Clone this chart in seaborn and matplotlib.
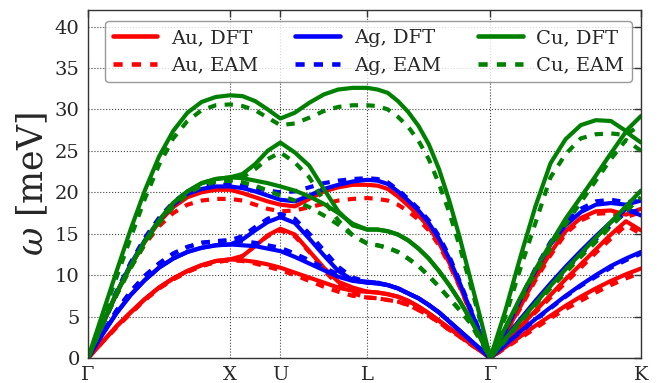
import numpy as np
import pandas as pd
import matplotlib
matplotlib.use("Agg")
import matplotlib.pyplot as plt
import seaborn as sns
from matplotlib.lines import Line2D

# ---- data -------------------------------------------------------------
sym_k = [0.0, 1.0, 1.354, 1.966, 2.832, 3.893]
sym_labels = ["Γ", "X", "U", "L", "Γ", "K"]

kpath = [0.0, 0.1, 0.2, 0.3, 0.4, 0.5, 0.6, 0.7, 0.8, 0.9, 1.0,
         1.088, 1.177, 1.265, 1.354,
         1.456, 1.558, 1.660, 1.762, 1.864, 1.966,
         2.038, 2.110, 2.182, 2.254, 2.327, 2.399, 2.471, 2.543, 2.616, 2.688, 2.760, 2.832,
         2.938, 3.044, 3.150, 3.256, 3.362, 3.469, 3.575, 3.681, 3.787, 3.893]

au_dft_1 = [0, 1.9, 3.8, 5.5, 7.1, 8.5, 9.6, 10.5, 11.2, 11.7, 11.9, 11.8, 11.6, 11.3, 10.9, 10.3, 9.7, 9.1, 8.5, 8.1, 8.0, 7.9, 7.7, 7.4, 6.9, 6.2, 5.4, 4.5, 3.6, 2.7, 1.8, 0.9, 0, 1.3, 2.6, 3.9, 5.1, 6.3, 7.4, 8.4, 9.3, 10.1, 10.8]
au_dft_2 = [0, 1.9, 3.8, 5.5, 7.1, 8.5, 9.6, 10.5, 11.2, 11.7, 11.9, 12.3, 13.5, 14.8, 15.6, 14.9, 12.9, 10.9, 9.2, 8.5, 8.0, 7.9, 7.7, 7.4, 6.9, 6.2, 5.4, 4.5, 3.6, 2.7, 1.8, 0.9, 0, 1.9, 3.8, 5.7, 7.6, 9.5, 11.3, 13.1, 14.9, 16.5, 15.4]
au_dft_3 = [0, 3.9, 7.7, 11.1, 14.0, 16.4, 18.2, 19.4, 20.0, 20.3, 20.3, 19.9, 19.4, 18.9, 18.5, 18.3, 19.2, 20.1, 20.6, 20.9, 20.9, 20.8, 20.4, 19.5, 18.4, 17.2, 15.8, 13.9, 11.5, 8.7, 5.8, 2.9, 0, 3.0, 6.2, 9.7, 12.7, 15.3, 16.9, 17.7, 17.8, 17.3, 18.0]
au_eam_1 = [0, 1.9, 3.7, 5.4, 7.0, 8.4, 9.5, 10.4, 11.1, 11.6, 11.8, 11.7, 11.4, 11.0, 10.6, 10.0, 9.3, 8.6, 8.0, 7.5, 7.3, 7.2, 7.0, 6.8, 6.4, 5.8, 5.1, 4.3, 3.4, 2.6, 1.7, 0.9, 0, 1.2, 2.4, 3.6, 4.8, 5.9, 6.9, 7.9, 8.8, 9.6, 10.3]
au_eam_2 = [0, 1.9, 3.7, 5.4, 7.0, 8.4, 9.5, 10.4, 11.1, 11.6, 11.8, 12.3, 13.6, 14.7, 15.4, 14.7, 12.8, 10.6, 8.8, 7.8, 7.3, 7.2, 7.0, 6.8, 6.4, 5.8, 5.1, 4.3, 3.4, 2.6, 1.7, 0.9, 0, 1.8, 3.7, 5.5, 7.3, 9.1, 10.9, 12.7, 14.4, 16.0, 15.0]
au_eam_3 = [0, 3.9, 7.6, 10.9, 13.7, 15.9, 17.5, 18.5, 19.0, 19.2, 19.2, 19.0, 18.5, 18.0, 17.7, 17.8, 18.2, 18.6, 19.0, 19.2, 19.3, 19.2, 19.0, 18.5, 17.7, 16.7, 15.4, 13.6, 11.3, 8.6, 5.7, 2.9, 0, 2.9, 6.0, 9.4, 12.4, 15.0, 16.6, 17.4, 17.5, 17.0, 17.6]

ag_dft_1 = [0, 2.8, 5.4, 7.6, 9.4, 10.9, 12.0, 12.8, 13.3, 13.6, 13.7, 13.6, 13.5, 13.2, 12.9, 12.2, 11.4, 10.6, 9.8, 9.3, 9.1, 9.0, 8.8, 8.4, 7.8, 7.2, 6.4, 5.5, 4.4, 3.3, 2.2, 1.1, 0, 1.6, 3.2, 4.7, 6.1, 7.5, 8.8, 10.0, 11.1, 12.0, 12.8]
ag_dft_2 = [0, 2.8, 5.4, 7.6, 9.4, 10.9, 12.0, 12.8, 13.3, 13.6, 13.7, 14.3, 15.4, 16.4, 17.0, 16.3, 14.4, 12.4, 10.5, 9.4, 9.1, 9.0, 8.8, 8.4, 7.8, 7.2, 6.4, 5.5, 4.4, 3.3, 2.2, 1.1, 0, 2.4, 4.7, 6.9, 9.0, 11.0, 12.9, 14.7, 16.4, 18.0, 17.2]
ag_dft_3 = [0, 4.0, 7.8, 11.3, 14.2, 16.6, 18.5, 19.8, 20.4, 20.7, 20.7, 20.5, 20.1, 19.6, 19.1, 18.9, 19.6, 20.4, 20.9, 21.3, 21.5, 21.4, 21.0, 20.1, 19.0, 17.8, 16.3, 14.4, 12.0, 9.1, 6.0, 3.0, 0, 3.3, 7.0, 10.5, 13.7, 16.0, 17.6, 18.5, 18.7, 18.5, 19.0]
ag_eam_1 = [0, 2.9, 5.7, 8.0, 9.9, 11.4, 12.6, 13.4, 13.9, 14.1, 14.2, 14.1, 13.9, 13.6, 13.3, 12.6, 11.8, 10.9, 10.1, 9.4, 9.2, 9.1, 8.8, 8.4, 7.8, 7.2, 6.4, 5.5, 4.4, 3.3, 2.2, 1.1, 0, 1.6, 3.1, 4.6, 6.0, 7.4, 8.7, 9.8, 10.9, 11.8, 12.6]
ag_eam_2 = [0, 2.9, 5.7, 8.0, 9.9, 11.4, 12.6, 13.4, 13.9, 14.1, 14.2, 14.7, 15.8, 16.8, 17.4, 16.8, 15.0, 13.0, 11.0, 9.7, 9.2, 9.1, 8.8, 8.4, 7.8, 7.2, 6.4, 5.5, 4.4, 3.3, 2.2, 1.1, 0, 2.3, 4.5, 6.6, 8.7, 10.6, 12.5, 14.3, 16.0, 17.6, 17.8]
ag_eam_3 = [0, 4.1, 8.0, 11.5, 14.5, 16.9, 18.8, 20.1, 20.7, 20.9, 20.9, 20.8, 20.5, 20.2, 20.0, 20.1, 20.6, 21.1, 21.4, 21.6, 21.7, 21.6, 21.2, 20.3, 19.2, 18.0, 16.6, 14.7, 12.3, 9.3, 6.2, 3.1, 0, 3.4, 7.2, 10.8, 14.0, 16.4, 18.0, 18.9, 19.1, 18.8, 19.0]

cu_dft_1 = [0, 4.0, 7.8, 11.1, 14.1, 16.6, 18.7, 20.1, 21.1, 21.6, 21.8, 21.7, 21.4, 21.1, 20.7, 20.2, 19.5, 18.6, 17.5, 16.2, 15.5, 15.5, 15.3, 14.9, 14.2, 13.2, 12.0, 10.5, 8.8, 6.9, 4.8, 2.5, 0, 2.3, 4.5, 6.6, 8.7, 10.7, 12.6, 14.5, 16.4, 18.3, 20.2]
cu_dft_2 = [0, 4.0, 7.8, 11.1, 14.1, 16.6, 18.7, 20.1, 21.1, 21.6, 21.8, 22.2, 23.4, 25.0, 26.0, 24.8, 23.2, 20.4, 17.7, 16.0, 15.5, 15.5, 15.3, 14.9, 14.2, 13.2, 12.0, 10.5, 8.8, 6.9, 4.8, 2.5, 0, 3.7, 7.3, 10.7, 13.8, 16.8, 19.4, 22.0, 24.7, 27.3, 26.0]
cu_dft_3 = [0, 5.2, 10.4, 15.5, 20.2, 24.3, 27.4, 29.6, 30.9, 31.5, 31.7, 31.6, 31.0, 30.0, 28.9, 29.6, 30.8, 31.8, 32.4, 32.6, 32.6, 32.4, 32.0, 31.0, 29.7, 28.0, 25.8, 22.8, 19.0, 14.6, 9.8, 5.0, 0, 5.7, 12.2, 18.3, 23.5, 26.4, 28.1, 28.7, 28.6, 27.4, 29.2]
cu_eam_1 = [0, 3.9, 7.6, 10.9, 13.8, 16.3, 18.3, 19.8, 20.8, 21.3, 21.4, 21.2, 20.8, 20.2, 19.6, 19.0, 18.2, 17.2, 16.1, 14.8, 13.8, 13.6, 13.3, 12.8, 12.0, 11.1, 9.9, 8.6, 7.2, 5.8, 4.3, 2.2, 0, 2.1, 4.3, 6.4, 8.4, 10.3, 12.2, 14.0, 15.9, 17.7, 19.4]
cu_eam_2 = [0, 3.9, 7.6, 10.9, 13.8, 16.3, 18.3, 19.8, 20.8, 21.3, 21.4, 21.8, 22.8, 24.0, 24.8, 23.6, 21.8, 19.0, 16.6, 14.8, 13.8, 13.6, 13.3, 12.8, 12.0, 11.1, 9.9, 8.6, 7.2, 5.8, 4.3, 2.2, 0, 3.5, 7.0, 10.3, 13.3, 16.1, 18.8, 21.4, 24.0, 26.3, 25.0]
cu_eam_3 = [0, 4.8, 9.7, 14.5, 19.2, 23.3, 26.5, 28.6, 29.9, 30.5, 30.6, 30.4, 29.9, 29.0, 28.1, 28.3, 29.0, 29.8, 30.3, 30.5, 30.5, 30.4, 30.0, 29.1, 27.9, 26.2, 24.0, 21.0, 17.6, 13.5, 9.1, 4.6, 0, 5.0, 10.8, 16.3, 21.8, 24.6, 26.5, 27.0, 27.1, 26.9, 28.2]

metals = ["Au", "Ag", "Cu"]
methods = ["DFT", "EAM"]
colors = {"Au": "#ff0000", "Ag": "#0000ff", "Cu": "#008000"}

bands = {
    ("Au", "DFT"): [au_dft_1, au_dft_2, au_dft_3],
    ("Au", "EAM"): [au_eam_1, au_eam_2, au_eam_3],
    ("Ag", "DFT"): [ag_dft_1, ag_dft_2, ag_dft_3],
    ("Ag", "EAM"): [ag_eam_1, ag_eam_2, ag_eam_3],
    ("Cu", "DFT"): [cu_dft_1, cu_dft_2, cu_dft_3],
    ("Cu", "EAM"): [cu_eam_1, cu_eam_2, cu_eam_3],
}

rows = []
for (metal, method), blist in bands.items():
    for i, b in enumerate(blist):
        for k, w in zip(kpath, b):
            rows.append({"k": k, "omega": w, "metal": metal, "method": method, "band": i})
df = pd.DataFrame(rows)

# ---- style ------------------------------------------------------------
sns.set_theme(style="white")
plt.rcParams["font.family"] = ["DejaVu Serif"]
plt.rcParams["mathtext.fontset"] = "dejavuserif"

fig = plt.figure(figsize=(6.6, 3.83), dpi=100)
ax = fig.add_axes([0.1333, 0.0653, 0.8379, 0.9087])

sns.lineplot(data=df, x="k", y="omega", hue="metal", style="method",
             units="band", estimator=None, sort=False,
             hue_order=metals, style_order=methods, palette=colors,
             dashes={"DFT": "", "EAM": (2, 2)}, lw=3, legend=False, ax=ax)

ax.set_xlim(sym_k[0], sym_k[-1])
ax.set_ylim(0, 42)
ax.set_yticks(np.arange(0, 41, 5))
ax.set_xticks(sym_k)
ax.set_xticklabels(sym_labels)
ax.grid(True, color="0.25", linestyle=":", linewidth=0.8)
ax.tick_params(direction="in", top=True, right=True, length=5, width=1,
               labelsize=14, pad=6, color="0.2")
for s in ax.spines.values():
    s.set_color("0.2")
    s.set_linewidth(1.0)
ax.set_xlabel("")
ax.set_ylabel(r"$\omega$ [meV]", fontsize=25, labelpad=3)

handles = []
labels = []
for m in metals:
    for meth in methods:
        ls = "-" if meth == "DFT" else (0, (2, 2))
        handles.append(Line2D([], [], color=colors[m], lw=3.3, linestyle=ls))
        labels.append(f"{m}, {meth}")
leg = ax.legend(handles, labels, ncol=3, loc="upper left",
                bbox_to_anchor=(0.0307, 0.0, 0.953, 0.968), mode="expand",
                borderaxespad=0.0, fontsize=14, handlelength=2.3,
                handletextpad=0.7, frameon=True, fancybox=True,
                borderpad=0.4, labelspacing=0.5)
leg.get_frame().set_edgecolor("0.5")
leg.get_frame().set_linewidth(1.0)

fig.savefig("out.png", dpi=100)
